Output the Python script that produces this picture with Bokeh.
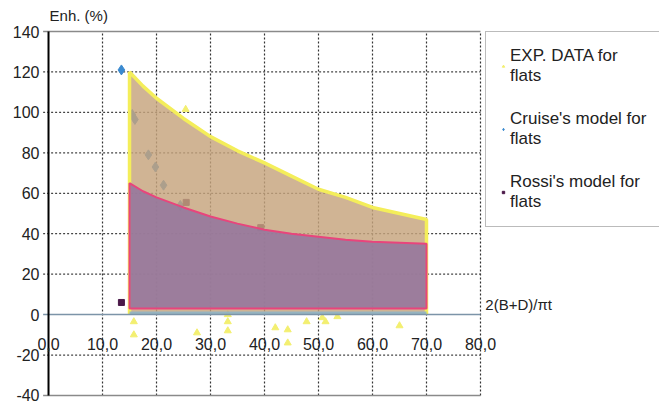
from bokeh.plotting import figure
from bokeh.models import (Range1d, FixedTicker, Label, LabelSet, ColumnDataSource,
                          Legend, LegendItem, CustomJSTickFormatter)
from bokeh.core.properties import value
from bokeh.embed import file_html
from bokeh.resources import INLINE

# ---------------- data ----------------
exp_x = [25.4, 15.8, 15.8, 27.5, 33.2, 33.2, 33.2, 42.0, 44.3, 44.3, 47.8, 50.7, 51.3, 53.5, 65.0]
exp_y = [101.5, -3.5, -10.0, -9.0, 0.0, -3.5, -8.0, -6.5, -7.5, -14.0, -3.5, -1.5, -3.5, -1.0, -5.5]

cruise_x = [13.5, 15.5, 16.0, 18.5, 19.8, 21.3, 24.4]
cruise_y = [121.0, 99.0, 96.5, 79.0, 73.0, 64.0, 54.0]

rossi_x = [13.5, 25.5, 39.3]
rossi_y = [6.0, 55.5, 43.0]

env_x = [15, 17.5, 20, 25, 30, 35, 40, 45, 50, 55, 60, 65, 70]
exp_upper = [120, 113, 107, 97, 88, 81, 75, 68.5, 62, 58, 53, 50, 47]
rossi_upper = [65, 61, 58, 53, 48.5, 45, 42, 40, 38.5, 37, 36, 35.5, 35]
rossi_base = 3.0
band_top = 1.5

x_ticks = [0, 10, 20, 30, 40, 50, 60, 70, 80]
x_tick_labels = ["0,0", "10,0", "20,0", "30,0", "40,0", "50,0", "60,0", "70,0", "80,0"]
y_ticks = [-40, -20, 0, 20, 40, 60, 80, 100, 120, 140]

X_MIN, X_MAX = 0, 80
Y_MIN, Y_MAX = -40, 140
TICK_STUB = -1.0   # gridlines reach a little left of the axis, like tick marks

FONT = "Liberation Sans"

# the frame is a little larger than the 0..80 / -40..140 area so outer texts are not clipped
p = figure(width=659, height=408, output_backend="svg", toolbar_location=None,
           x_range=Range1d(-2.04, 113.15), y_range=Range1d(-46.43, 155.33),
           x_axis_location=None,
           min_border_left=37, min_border_top=0, min_border_bottom=0, min_border_right=0)
p.outline_line_color = None
p.background_fill_color = "white"
p.xgrid.visible = False
p.ygrid.visible = False

# y axis (labels only; the axis line is drawn at x=0 below)
yax = p.yaxis[0]
yax.ticker = FixedTicker(ticks=y_ticks)
yax.formatter = CustomJSTickFormatter(code="return tick.toFixed(0);")
yax.axis_line_color = None
yax.major_tick_line_color = None
yax.major_tick_out = 0
yax.major_tick_in = 0
yax.minor_tick_line_color = None
yax.major_label_standoff = -2
yax.major_label_text_font = FONT
yax.major_label_text_font_size = "16px"
yax.major_label_text_color = "#222222"

# gridlines limited to the 0..80 / -40..140 box
vx = x_ticks[1:]
p.segment(x0=vx, y0=[Y_MIN] * len(vx), x1=vx, y1=[Y_MAX] * len(vx),
          line_color="#333333", line_dash="2 2", line_width=1.2)
hy = [t for t in y_ticks if t not in (Y_MIN, 0, Y_MAX)]
p.segment(x0=[TICK_STUB] * len(hy), y0=hy, x1=[X_MAX] * len(hy), y1=hy,
          line_color="#444444", line_dash="2 2", line_width=1.2)
p.segment(x0=[TICK_STUB, TICK_STUB], y0=[Y_MIN, Y_MAX], x1=[X_MAX, X_MAX], y1=[Y_MIN, Y_MAX],
          line_color="#8a8a8a", line_width=1.5)

# scatter markers (drawn first, areas partly veil them)
r_exp = p.scatter(exp_x, exp_y, marker="triangle", size=7, fill_color="#f3ef70",
                  line_color="#f3ef70")
r_cru = p.scatter(cruise_x, cruise_y, marker="diamond", size=10, fill_color="#3a8ad0",
                  line_color="#3a8ad0")
r_ros = p.scatter(rossi_x, rossi_y, marker="square", size=6, fill_color="#4a1848",
                  line_color="#4a1848")

# areas
tan_xs = [env_x[0]] + env_x + [env_x[-1]]
tan_ys = [0] + exp_upper + [0]
p.patch(tan_xs, tan_ys, fill_color="#c6a47c", fill_alpha=0.82, line_color=None)
p.line(tan_xs, tan_ys, line_color="#f4ee5a", line_width=3.5)

pur_xs = [env_x[0]] + env_x + [env_x[-1], env_x[0]]
pur_ys = [rossi_base] + rossi_upper + [rossi_base, rossi_base]
p.patch(pur_xs, pur_ys, fill_color="#96779c", fill_alpha=0.9, line_color="#e8457c",
        line_width=2)

p.varea(x=[env_x[0], env_x[-1]], y1=[0, 0], y2=[band_top, band_top],
        fill_color="#8fb4c4", fill_alpha=0.9)

# zero line and y axis line
p.segment(x0=[TICK_STUB], y0=[0], x1=[X_MAX], y1=[0], line_color="#7c94a8", line_width=1.5)
p.segment(x0=[X_MIN], y0=[Y_MIN], x1=[X_MIN], y1=[Y_MAX], line_color="black", line_width=2)

# x tick labels inside the plot
src = ColumnDataSource(dict(x=x_ticks, y=[-14.5] * len(x_ticks), t=x_tick_labels))
p.add_layout(LabelSet(x="x", y="y", text="t", source=src, text_align="center",
                      text_baseline="middle", text_font=value(FONT),
                      text_font_size="16px", text_color="#222222"))

p.add_layout(Label(x=80.9, y=5, text="2(B+D)/\u03c0t", text_align="left",
                   text_baseline="middle", text_font=FONT, text_font_size="15px",
                   text_color="#222222"))
p.add_layout(Label(x=0.2, y=148, text="Enh. (%)", text_align="left",
                   text_baseline="middle", text_font=FONT, text_font_size="15px",
                   text_color="#222222"))

legend = Legend(items=[
    LegendItem(label="EXP. DATA for\nflats", renderers=[r_exp]),
    LegendItem(label="Cruise's model for\nflats", renderers=[r_cru]),
    LegendItem(label="Rossi's model for\nflats", renderers=[r_ros]),
], location=(448, 181))
legend.label_text_font = FONT
legend.label_text_font_size = "17px"
legend.label_text_color = "#222222"
legend.glyph_width = 6
legend.glyph_height = 8
legend.label_standoff = 4
legend.padding = 14
legend.spacing = 23
legend.margin = 0
legend.border_line_color = "#777777"
legend.border_line_width = 1.5
legend.background_fill_color = "white"
legend.background_fill_alpha = 1
p.add_layout(legend, "center")

open("out.html", "w").write(file_html(p, INLINE))
